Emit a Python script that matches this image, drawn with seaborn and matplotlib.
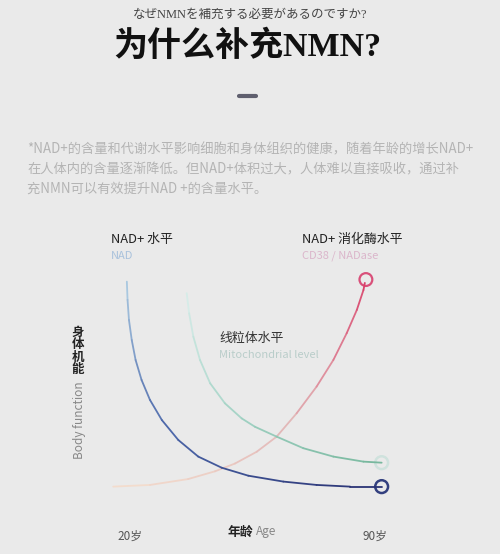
import pandas as pd
import matplotlib
matplotlib.use('Agg')
import matplotlib.pyplot as plt
from matplotlib.colors import LinearSegmentedColormap, to_hex
from matplotlib.lines import Line2D
import seaborn as sns

# Curves (age in years, level in arbitrary 0-100 units)
nad_age = [19.1, 19.3, 19.7, 20.5, 21.6, 23.3, 25.7, 29.1, 33.8, 39.5, 46.2, 53.8,
           63.8, 73.3, 82.9, 91.9]
nad_level = [99.2, 90.5, 81.0, 71.4, 61.9, 52.4, 42.9, 33.3, 23.8, 15.9, 10.6, 6.8,
             4.0, 2.4, 1.6, 1.6]

mito_age = [36.2, 36.9, 38.1, 40.0, 42.9, 47.1, 51.9, 55.7, 61.9, 69.5, 78.1, 86.7, 91.9]
mito_level = [93.7, 84.1, 73.0, 61.9, 50.8, 41.3, 34.1, 30.1, 25.4, 19.9, 15.9, 13.5, 13.0]

cd38_age = [15.2, 25.7, 36.6, 44.3, 50.0, 56.2, 61.9, 67.6, 73.3, 78.1, 81.9, 84.8,
            86.7, 87.1]
cd38_level = [1.6, 2.4, 5.2, 8.9, 12.6, 18.2, 25.4, 36.5, 49.2, 61.9, 74.6, 85.7,
              95.2, 98.6]

age_ticks = [20, 90]
age_tick_labels = ['20岁', '90岁']

sns.set_theme(style='white')
plt.rcParams['font.family'] = ['Noto Sans CJK SC', 'DejaVu Sans']

W, H = 500, 554
fig = plt.figure(figsize=(W / 100, H / 100), dpi=100, facecolor='#eaeaea')


def fx(px):
    return px / W


def fy(py):
    return 1 - py / H


# Header
fig.text(fx(250), fy(15), 'なぜNMNを補充する必要があるのですか?', ha='center', va='center',
         fontsize=9, color='#444444', family=['Liberation Serif', 'Noto Sans CJK JP'])
fig.text(fx(247), fy(47), '为什么补充NMN?', ha='center', va='center', fontsize=24.5,
         fontweight='bold', color='#111111', family=['Liberation Serif', 'Noto Sans CJK SC'])
fig.add_artist(Line2D([fx(239), fx(256)], [fy(96), fy(96)], color='#5f5f6e', lw=3,
                      solid_capstyle='round'))

para = ['*NAD+的含量和代谢水平影响细胞和身体组织的健康，随着年龄的增长NAD+',
        '在人体内的含量逐渐降低。但NAD+体积过大，人体难以直接吸收，通过补',
        '充NMN可以有效提升NAD +的含量水平。']
for i, line in enumerate(para):
    fig.text(fx(27), fy(149 + i * 20), line, ha='left', va='center', fontsize=9.55,
             color='#b4b4b4')

# Chart
ax = fig.add_axes([0.19, 0.0966, 0.63, 0.417])
ax.set_facecolor('none')


def gradient_frame(xs, ys, name):
    rows = []
    for i in range(len(xs) - 1):
        rows.append({'age': xs[i], 'level': ys[i], 'seg': f'{name}{i}'})
        rows.append({'age': xs[i + 1], 'level': ys[i + 1], 'seg': f'{name}{i}'})
    return pd.DataFrame(rows)


def draw_curve(xs, ys, name, stops):
    df = gradient_frame(xs, ys, name)
    cmap = LinearSegmentedColormap.from_list(name, stops)
    n = len(xs) - 1
    pal = {f'{name}{i}': to_hex(cmap(i / max(n - 1, 1))) for i in range(n)}
    sns.lineplot(data=df, x='age', y='level', hue='seg', palette=pal, estimator=None,
                 sort=False, legend=False, linewidth=1.3, solid_capstyle='round', ax=ax)


draw_curve(cd38_age, cd38_level, 'cd38', ['#f3dccd', '#e2b8b8', '#d9406a'])
draw_curve(mito_age, mito_level, 'mito', ['#d6ece8', '#a2d2c4', '#78b89e'])
draw_curve(nad_age, nad_level, 'nad', ['#a9c8e0', '#4d68aa', '#2b3475'])

# end markers
sns.scatterplot(x=[nad_age[-1]], y=[nad_level[-1]], s=85, facecolor='none',
                edgecolor='#33407f', linewidth=1.8, ax=ax)
sns.scatterplot(x=[mito_age[-1]], y=[mito_level[-1]], s=85, facecolor='none',
                edgecolor='#cfe2dd', linewidth=1.8, ax=ax)
sns.scatterplot(x=[cd38_age[-1] + 0.3], y=[cd38_level[-1] + 1.6], s=85, facecolor='none',
                edgecolor='#d9507a', linewidth=1.6, ax=ax)

ax.set_xlim(10, 100)
ax.set_ylim(-5, 105)
ax.set_xticks(age_ticks)
ax.set_xticklabels(age_tick_labels, fontsize=8.5, color='#555555')
ax.set_yticks([])
ax.tick_params(axis='x', length=0, pad=21)
ax.set_xlabel('')
ax.set_ylabel('')
sns.despine(ax=ax, left=True, bottom=True)

# Curve labels
fig.text(fx(111), fy(239), 'NAD+ 水平', ha='left', va='center', fontsize=9.3, color='#222222')
fig.text(fx(111), fy(256), 'NAD', ha='left', va='center', fontsize=8, color='#a9c2dc')
fig.text(fx(302), fy(239), 'NAD+ 消化酶水平', ha='left', va='center', fontsize=9.3, color='#222222')
fig.text(fx(302), fy(256), 'CD38 / NADase', ha='left', va='center', fontsize=8, color='#dbb6cb')
fig.text(fx(219), fy(338), '线粒体水平', ha='left', va='center', fontsize=9.3, color='#333333')
fig.text(fx(219), fy(355), 'Mitochondrial level', ha='left', va='center', fontsize=8,
         color='#b9cdca')

# Axis titles
fig.text(fx(78), fy(351), '身\n体\n机\n能', ha='center', va='center', fontsize=9,
         fontweight='bold', color='#222222', linespacing=0.95)
fig.text(fx(79), fy(420), 'Body function', ha='center', va='center', rotation=90,
         fontsize=8.5, color='#888888')
fig.text(fx(253), fy(532), '年龄', ha='right', va='center', fontsize=9.3,
         fontweight='bold', color='#222222')
fig.text(fx(256), fy(532), 'Age', ha='left', va='center', fontsize=8.5, color='#888888')

fig.savefig('out.png', dpi=100, facecolor=fig.get_facecolor())
